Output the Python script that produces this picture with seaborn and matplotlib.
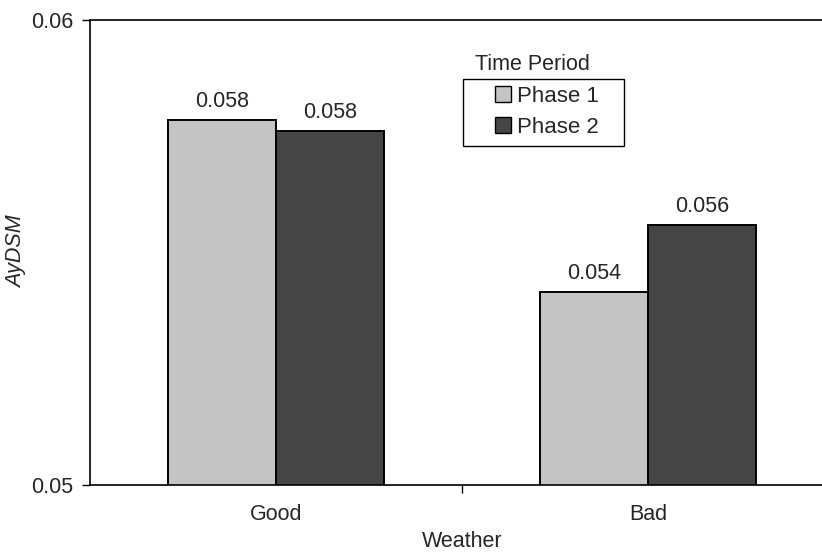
import pandas as pd
import numpy as np
import matplotlib.pyplot as plt
import seaborn as sns
from matplotlib.ticker import FixedLocator
from matplotlib.patches import Rectangle

# ── Data ──────────────────────────────────────────────────────────────────────
weather = ['Good', 'Good', 'Bad', 'Bad']
phase = ['Phase 1', 'Phase 2', 'Phase 1', 'Phase 2']
aydsm = [0.05785, 0.05761, 0.05415, 0.05559]
bar_labels = ['0.058', '0.058', '0.054', '0.056']

df = pd.DataFrame({'Weather': weather, 'Time Period': phase, 'AyDSM': aydsm})

# ── Style ─────────────────────────────────────────────────────────────────────
sns.set_theme(style='white')
plt.rcParams['font.family'] = ['Liberation Sans', 'DejaVu Sans']
FS = 15.5

fig = plt.figure(figsize=(8.22, 5.56), dpi=100)
ax = fig.add_axes([90 / 822, (556 - 485) / 556, 744 / 822, 465 / 556])

palette = {'Phase 1': '#c4c4c4', 'Phase 2': '#454545'}
sns.barplot(data=df, x='Weather', y='AyDSM', hue='Time Period',
            order=['Good', 'Bad'], hue_order=['Phase 1', 'Phase 2'],
            palette=palette, width=0.58, edgecolor='black', linewidth=1.4,
            saturation=1, ax=ax)

ax.set_ylim(0.05, 0.06)
ax.set_xlim(-0.5, 1.5)
ax.set_yticks([0.05, 0.06])
ax.set_yticklabels(['0.05', '0.06'], fontsize=FS)
ax.tick_params(axis='y', direction='out', length=6, width=1, left=True,
               color='black', pad=6)
ax.tick_params(axis='x', which='major', length=0, labelsize=FS, pad=14)
ax.xaxis.set_minor_locator(FixedLocator([0.5]))
ax.tick_params(axis='x', which='minor', direction='out', length=6, width=1,
               bottom=True, color='black')

for side in ['left', 'bottom', 'top']:
    ax.spines[side].set_visible(True)
    ax.spines[side].set_color('black')
    ax.spines[side].set_linewidth(1.2)
ax.spines['right'].set_visible(False)

ax.set_xlabel('Weather', fontsize=FS, labelpad=4)
ax.set_ylabel('AyDSM', fontsize=FS, style='italic')
ax.yaxis.set_label_coords((27 - 90) / 744, (485 - 252) / 465)

# value labels
for container, labels in zip(ax.containers, [[bar_labels[0], bar_labels[2]],
                                              [bar_labels[1], bar_labels[3]]]):
    ax.bar_label(container, labels=labels, padding=6, fontsize=FS)

# legend: entries without frame, box drawn separately, title above the box
leg = ax.legend(loc='upper left', bbox_to_anchor=((495 - 90) / 744, (485 - 86) / 465),
                fontsize=FS + 0.5, frameon=False,
                handlelength=0.7, handleheight=0.7, handletextpad=0.3,
                borderpad=0, labelspacing=0.45, borderaxespad=0)
for h in leg.legend_handles:
    h.set_edgecolor('black')
    h.set_linewidth(1)
fig.patches.append(Rectangle((463 / 822, 1 - 146 / 556), 161 / 822, 67 / 556,
                             transform=fig.transFigure, fill=False,
                             edgecolor='black', linewidth=1))
fig.text(532 / 822, 1 - 65 / 556, 'Time Period', fontsize=FS,
         ha='center', va='center')

plt.savefig('out.png', dpi=100)
plt.close()
